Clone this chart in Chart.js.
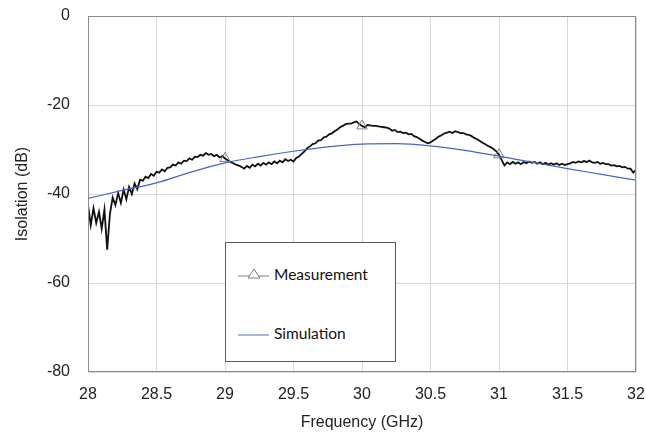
<!DOCTYPE html>
<html>
<head>
<meta charset="utf-8">
<script src="https://cdn.jsdelivr.net/npm/chart.js@4/dist/chart.umd.min.js"></script>
<style>
  html, body { margin: 0; padding: 0; background: #fff; }
  #wrap { position: relative; width: 646px; height: 435px; }
  #legend {
    position: absolute; left: 225px; top: 242px; width: 171px; height: 120px;
    background: #fff; border: 1px solid #5a5a5a; box-sizing: border-box;
    font-family: Lato, "Open Sans", sans-serif; font-size: 15.5px; color: #111;
  }
  .item { position: absolute; left: 12px; display: flex; align-items: center; }
  .item span { margin-left: 5px; }
</style>
</head>
<body>
<div id="wrap">
  <canvas id="chart" width="646" height="435"></canvas>
  <div id="legend">
    <div class="item" style="top:22px">
      <svg width="31" height="14"><line x1="0" y1="9" x2="31" y2="9" stroke="#7f7f7f" stroke-width="1"/>
        <polygon points="16,2 22,11 10,11" fill="#fff" stroke="#7f7f7f" stroke-width="1"/></svg>
      <span>Measurement</span>
    </div>
    <div class="item" style="top:81px">
      <svg width="31" height="14"><line x1="0" y1="9" x2="31" y2="9" stroke="#8f9ad8" stroke-width="1.5"/></svg>
      <span>Simulation</span>
    </div>
  </div>
</div>
<script>
const MEAS_START = 28;
const MEAS_STEP = 0.02;
const measurement = [
  -42.5, -47.0, -43.2, -46.5, -44.0, -47.8, -43.5, -52.5, -44.5, -40.8,
  -42.5, -39.8, -42.0, -39.0, -41.2, -38.4, -40.0, -37.6, -38.9, -36.8,
  -37.0, -36.1, -36.4, -35.5, -35.9, -35.0, -35.2, -34.5, -34.9, -34.1,
  -34.0, -33.4, -33.6, -32.9, -33.2, -32.5, -32.6, -32.0, -32.3, -31.6,
  -31.7, -31.2, -31.4, -30.8, -31.2, -31.0, -31.5, -31.2, -31.8, -31.5,
  -32.0, -32.4, -32.8, -33.1, -33.4, -33.6, -33.9, -34.3, -33.7, -34.1,
  -33.4, -33.8, -33.2, -33.6, -33.0, -33.4, -32.9, -33.3, -32.7, -33.1,
  -32.5, -32.9, -32.2, -32.6, -32.3, -32.7, -31.9, -31.6, -31.0, -30.4,
  -29.7, -29.3, -28.8, -28.6, -28.0, -27.9, -27.3, -27.1, -26.6, -26.4,
  -25.9, -25.5, -25.0, -24.7, -24.3, -24.2, -24.2, -23.9, -23.7, -24.3,
  -24.7, -25.0, -24.5, -24.6, -24.7, -24.7, -24.8, -24.9, -25.0, -25.1,
  -25.3, -25.8, -25.6, -26.1, -26.0, -26.3, -26.2, -26.6, -26.5, -27.0,
  -27.2, -27.6, -28.0, -28.3, -28.6, -28.4, -28.0, -27.6, -27.1, -26.8,
  -26.4, -26.2, -26.0, -26.3, -25.9, -26.1, -26.3, -26.3, -26.6, -26.7,
  -27.0, -27.4, -27.7, -28.1, -28.5, -28.8, -29.2, -29.5, -29.9, -30.4,
  -31.2, -32.4, -33.6, -32.9, -33.3, -32.8, -33.2, -32.9, -33.3, -32.8,
  -33.1, -32.7, -33.0, -32.8, -33.2, -32.9, -33.3, -33.0, -33.4, -33.1,
  -33.4, -33.1, -33.5, -33.2, -33.5, -33.3, -33.1, -32.8, -33.0, -32.7,
  -32.9, -32.6, -32.8, -32.5, -32.9, -33.0, -32.8, -33.2, -33.0, -33.3,
  -33.3, -33.6, -33.5, -33.8, -33.7, -34.0, -33.9, -34.3, -34.3, -35.2,
  -34.6
];
// frequencies where the measurement trace shows its triangle marker
const markerFreqs = [29, 30, 31];

const simFreqs = [28, 28.25, 28.5, 28.75, 29, 29.25, 29.5, 29.75, 30, 30.25, 30.5, 30.75, 31, 31.25, 31.5, 31.75, 32];
const simulation = [-41.0, -39.2, -37.5, -35.1, -33.0, -31.6, -30.4, -29.4, -28.8, -28.7, -29.2, -30.2, -31.5, -32.9, -34.3, -35.6, -36.9];

const xTicks = [28, 28.5, 29, 29.5, 30, 30.5, 31, 31.5, 32];
const yTicks = [0, -20, -40, -60, -80];

const measPoints = measurement.map((v, i) => ({ x: MEAS_START + i * MEAS_STEP, y: v }));
const simPoints = simulation.map((v, i) => ({ x: simFreqs[i], y: v }));
const isMarker = x => markerFreqs.some(f => Math.abs(f - x) < 1e-6);

const FONT = { family: '"Liberation Sans", Arial, sans-serif', size: 16 };

const framePlugin = {
  id: 'frame',
  afterDatasetsDraw(chart) {
    const { ctx, chartArea: a } = chart;
    ctx.save();
    ctx.strokeStyle = '#8c8c8c';
    ctx.lineWidth = 1;
    ctx.strokeRect(a.left + 0.5, a.top + 0.5, a.right - a.left - 1, a.bottom - a.top - 1);
    ctx.restore();
  }
};

new Chart(document.getElementById('chart'), {
  type: 'scatter',
  data: {
    datasets: [
      {
        label: 'Simulation',
        data: simPoints,
        showLine: true,
        borderColor: '#4a63c6',
        borderWidth: 1.2,
        pointRadius: 0,
        cubicInterpolationMode: 'monotone',
      },
      {
        label: 'Measurement',
        data: measPoints,
        showLine: true,
        borderColor: '#111',
        borderWidth: 1.8,
        tension: 0,
        pointStyle: 'triangle',
        pointRadius: ctx => (ctx.raw && isMarker(ctx.raw.x)) ? 6 : 0,
        pointBorderColor: '#7f7f7f',
        pointBackgroundColor: 'rgba(255,255,255,0)',
        pointBorderWidth: 1,
      },
    ],
  },
  options: {
    responsive: false,
    animation: false,
    layout: { padding: { left: 0, right: 10, top: 16, bottom: 0 } },
    plugins: { legend: { display: false }, tooltip: { enabled: false } },
    scales: {
      x: {
        type: 'linear', min: 28, max: 32,
        afterBuildTicks: s => { s.ticks = xTicks.map(v => ({ value: v })); },
        afterFit: s => { s.height = 63; s.paddingLeft = 0; s.paddingRight = 0; },
        ticks: { color: '#222', font: FONT, padding: 13, maxRotation: 0, callback: v => String(v) },
        grid: { color: '#d9d9d9', drawTicks: false },
        border: { display: false },
        title: { display: true, text: 'Frequency (GHz)', color: '#222', font: FONT, padding: { top: 2, bottom: 3 } },
      },
      y: {
        min: -80, max: 0,
        afterBuildTicks: s => { s.ticks = yTicks.map(v => ({ value: v })); },
        afterFit: s => { s.width = 88; s.paddingTop = 0; s.paddingBottom = 0; },
        ticks: { color: '#222', font: FONT, padding: 18, callback: v => String(v) },
        grid: { color: '#d9d9d9', drawTicks: false },
        border: { display: false },
        title: { display: true, text: 'Isolation (dB)', color: '#222', font: FONT, padding: { top: 13, bottom: 4 } },
      },
    },
  },
  plugins: [framePlugin],
});
</script>
</body>
</html>
